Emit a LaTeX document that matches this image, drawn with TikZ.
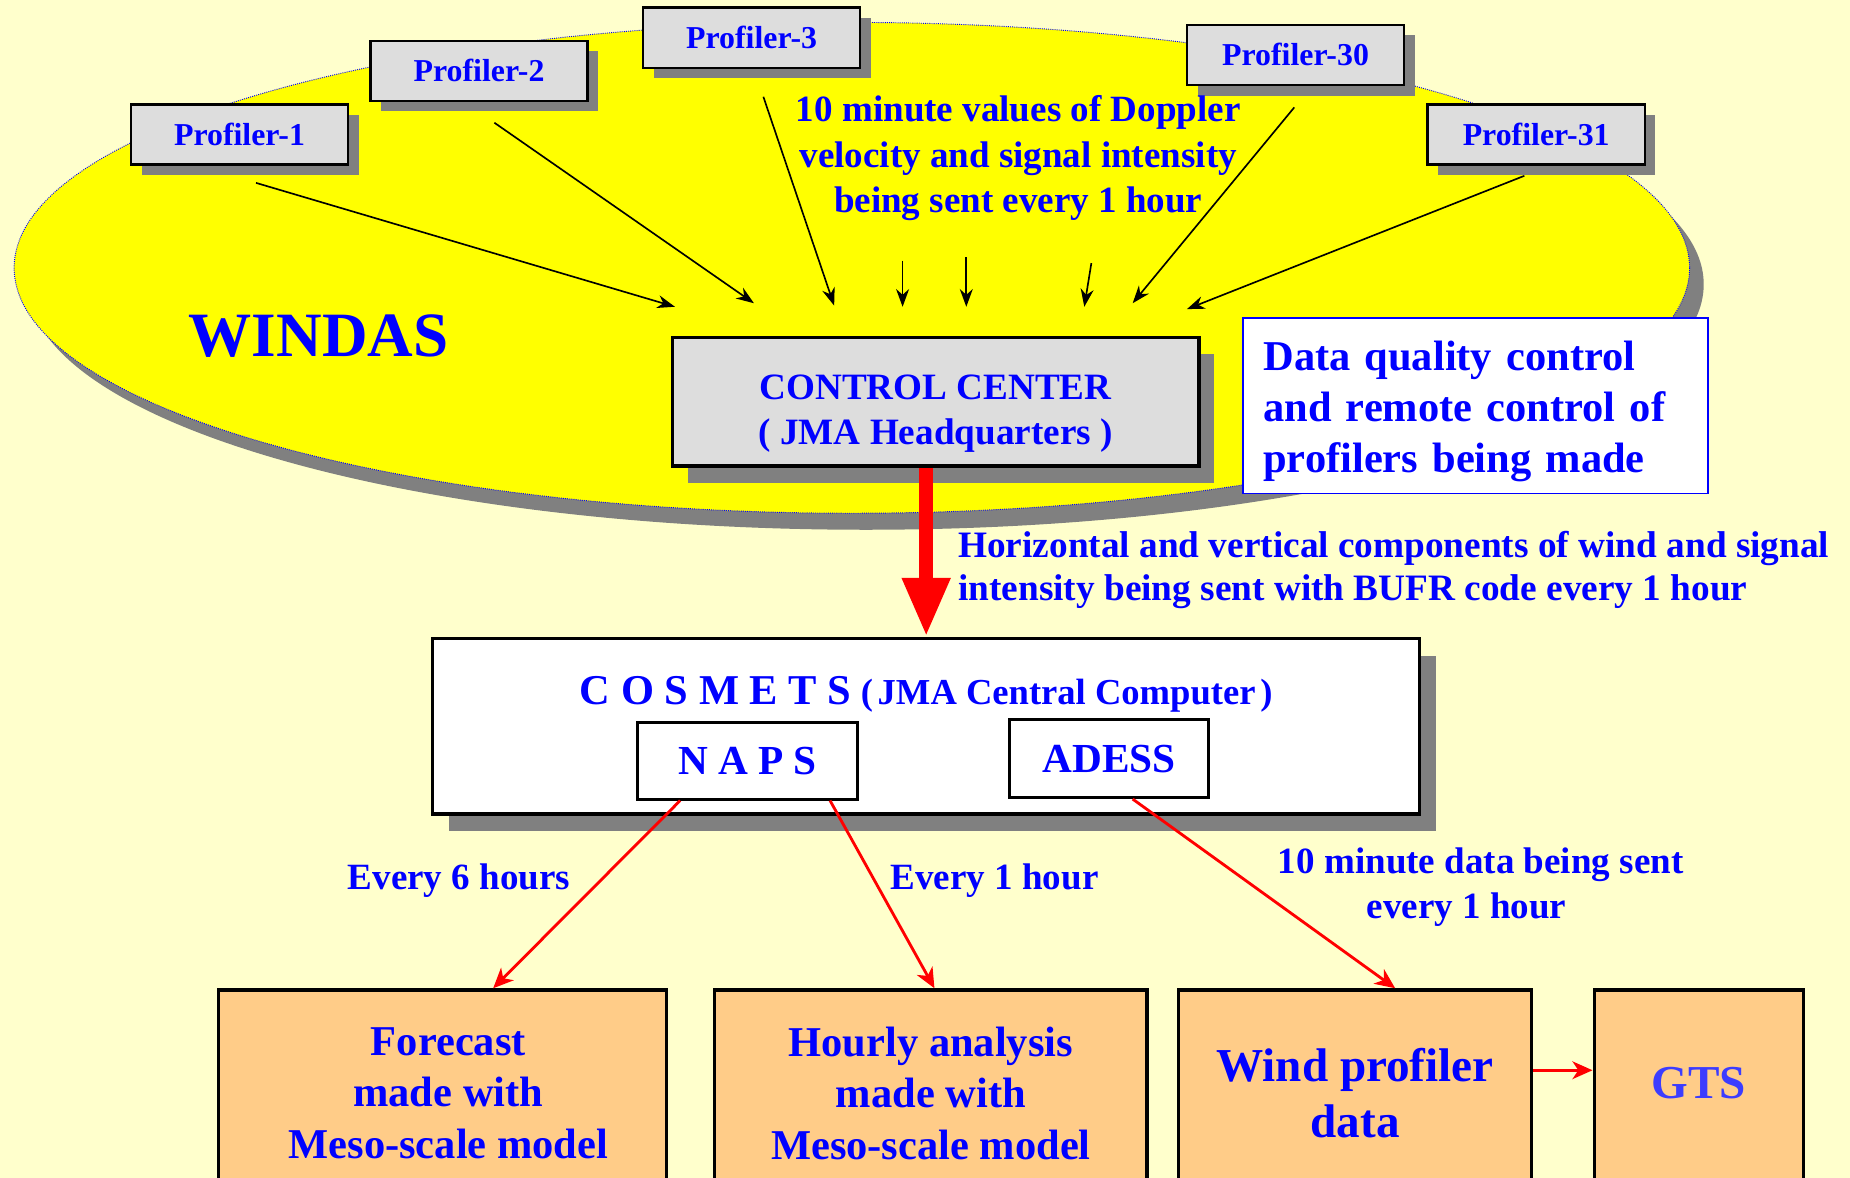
\documentclass[tikz,border=0pt]{standalone}
\usepackage{fontspec}
\setmainfont{Liberation Serif}
\usetikzlibrary{arrows.meta,shadows,positioning}

\definecolor{paper}{HTML}{FFFFCC}
\definecolor{windasyellow}{HTML}{FFFF00}
\definecolor{shadowgray}{HTML}{808080}
\definecolor{panelgray}{HTML}{DDDDDD}
\definecolor{outfill}{HTML}{FFCC88}
\definecolor{gtsblue}{HTML}{3C3CFF}

\newcommand{\fsz}[2]{\bfseries\fontsize{#1}{#2}\selectfont}

\tikzset{
  txt/.style={text=blue, font=\fsz{31.4}{38.5}, align=center, inner sep=0pt},
  flow/.style={line width=1.4pt, -{Stealth[length=15pt,width=11pt]}},
  redflow/.style={red, line width=2.4pt, -{Stealth[length=17pt,width=15pt,inset=5pt]}},
  bigred/.style={red, line width=12pt, -{Triangle[length=50pt,width=38pt]}},
  profiler/.style={draw=black, line width=2pt, fill=panelgray, text=blue,
    minimum width=184pt, minimum height=51pt, inner sep=0pt, font=\fsz{27}{32},
    general shadow={fill=shadowgray, shadow xshift=9pt, shadow yshift=-9pt}},
  centerbox/.style={draw=black, line width=3pt, fill=panelgray, text=blue,
    align=center, inner sep=0pt, font=\fsz{31.5}{38},
    general shadow={fill=shadowgray, shadow xshift=13pt, shadow yshift=-14pt}},
  notebox/.style={draw=blue, line width=1.5pt, fill=white, text=blue,
    align=left, inner xsep=17pt, inner ysep=0pt, font=\fsz{36}{43.5}},
  hostbox/.style={draw=black, line width=3pt, fill=white, text=blue,
    inner sep=0pt, general shadow={fill=shadowgray, shadow xshift=14pt, shadow yshift=-15pt}},
  subbox/.style={draw=black, line width=2.5pt, fill=white, text=blue,
    inner sep=0pt, font=\fsz{35}{40}},
  outbox/.style={draw=black, line width=3pt, fill=outfill, text=blue,
    align=center, inner sep=0pt, anchor=north, minimum height=175pt, font=\fsz{36}{43.5}}
}

\begin{document}
\begin{tikzpicture}[x=1pt,y=-1pt]
\useasboundingbox (0,0) rectangle (1568,998);
\fill[paper] (0,0) rectangle (1568,998);

% WINDAS area
\fill[shadowgray] (734,241) ellipse [x radius=710, y radius=208];
\filldraw[fill=windasyellow, draw=blue, densely dotted, line width=0.8pt]
  (722,227) ellipse [x radius=710, y radius=208];
\node[txt, font=\fsz{53.5}{60}] (windas) at (270,285) {WINDAS};

% profilers
\node[profiler] (p1) at (203,114) {Profiler-1};
\node[profiler] (p2) at (406,60) {Profiler-2};
\node[profiler] (p3) at (637,32) {Profiler-3};
\node[profiler] (p30) at (1098,46.5) {Profiler-30};
\node[profiler] (p31) at (1302,114) {Profiler-31};

\node[txt] (doppler) at (863,134) {10 minute values of Doppler\\velocity and signal intensity\\being sent every 1 hour};

\node[centerbox, minimum width=446pt, text height=91pt, text depth=18pt, anchor=north] (cc) at (793,284.5)
  {CONTROL CENTER\\( JMA Headquarters )};
\node[notebox, text width=360pt, text height=44.5pt, text depth=104.5pt, anchor=north west] (dqc) at (1053,268.5)
  {Data quality control\\and remote control of\\profilers being made};

% arrow ends
\coordinate (p1out) at (217,155);   \coordinate (p1in) at (572,260);
\coordinate (p2out) at (419,104);   \coordinate (p2in) at (639,257);
\coordinate (p3out) at (647,82);    \coordinate (p3in) at (707,259);
\coordinate (m1out) at (765,221);   \coordinate (m1in) at (765,260);
\coordinate (m2out) at (819,218);   \coordinate (m2in) at (819,260);
\coordinate (m3out) at (925,223);   \coordinate (m3in) at (919,260);
\coordinate (p30out) at (1097,91);  \coordinate (p30in) at (960,257);
\coordinate (p31out) at (1292,149); \coordinate (p31in) at (1006,262);

\draw[flow] (p1out) -- (p1in);
\draw[flow] (p2out) -- (p2in);
\draw[flow] (p3out) -- (p3in);
\draw[flow] (m1out) -- (m1in);
\draw[flow] (m2out) -- (m2in);
\draw[flow] (m3out) -- (m3in);
\draw[flow] (p30out) -- (p30in);
\draw[flow] (p31out) -- (p31in);

% central computer
\node[hostbox, minimum width=836.5pt, text height=56pt, text depth=92.5pt, anchor=north] (cosmets) at (785,539.7)
  {{\fsz{36}{40}C O S M E T S}\hspace{8pt}{\fsz{31}{38}(\hspace{4pt}JMA Central Computer\hspace{4pt})}};
\node[subbox, minimum width=187pt, minimum height=64.5pt] (naps) at (633.5,645) {N A P S};
\node[subbox, minimum width=168.5pt, minimum height=66pt] (adess) at (940,643) {ADESS};

\draw[bigred] (cosmets.north |- cc.south) -- (cosmets.north);
\node[txt, align=left, anchor=west, font=\fsz{31.6}{37}] (bufr) at (812,483)
  {Horizontal and vertical components of wind and signal\\intensity being sent with BUFR code every 1 hour};

% products
\node[outbox, minimum width=380pt] (fcst) at (375,837.6) {\hspace*{10pt}Forecast\\\hspace*{10pt}made with\\\hspace*{10pt}Meso-scale model};
\node[outbox, minimum width=366.5pt] (hourly) at (789,837.6) {Hourly analysis\\made with\\Meso-scale model};
\node[outbox, minimum width=299pt, font=\fsz{40}{48}] (wpd) at (1148.5,837.6) {Wind profiler\\data};
\node[outbox, minimum width=177.5pt, font=\fsz{40}{48}, text=gtsblue, text height=92pt, text depth=83pt] (gts) at (1440,837.6) {GTS};

\node[txt] (six) at (389,746) {Every 6 hours};
\node[txt] (one) at (843,746) {Every 1 hour};
\node[txt] (tenmin) at (1255,752) {10 minute data being sent\\every 1 hour\hspace*{24pt}};

\draw[redflow] ([xshift=-57pt]naps.south) -- ([xshift=43pt]fcst.north);
\draw[redflow] ([xshift=70pt]naps.south) -- ([xshift=3pt]hourly.north);
\draw[redflow] ([xshift=20pt]adess.south) -- ([xshift=34pt]wpd.north);
\draw[redflow] ([yshift=19.5pt]wpd.east) -- ([yshift=19.5pt]gts.west);
\end{tikzpicture}
\end{document}
